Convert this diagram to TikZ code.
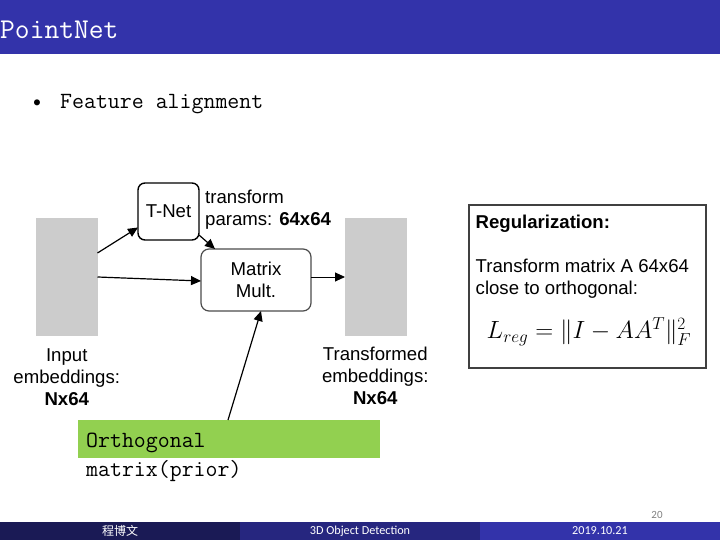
\documentclass[tikz,border=0pt]{standalone}
\usepackage{amsmath}
\usepackage{fontspec}
\setmainfont{Liberation Sans}
\newfontfamily\cjkfont{Noto Sans CJK SC}
\newfontfamily\footfont{Carlito}
\newfontfamily\slidefont{Latin Modern Mono}
\usepackage{xcolor}
\usetikzlibrary{positioning}
\usetikzlibrary{calc}
\usetikzlibrary{arrows.meta}
\definecolor{barBlue}{HTML}{3333AA}
\definecolor{barMid}{HTML}{26267F}
\definecolor{barDark}{HTML}{1A1A55}
\definecolor{blockGray}{HTML}{CCCCCC}
\definecolor{priorGreen}{HTML}{92D050}
\tikzset{
	embed/.style={fill=blockGray, minimum width=61.5pt, minimum height=118pt, inner sep=0pt, outer sep=0pt},
	bar/.style={minimum height=18pt, minimum width=240pt, inner sep=0pt, outer sep=0pt, text=white, font=\footfont\fontsize{12.2}{12.2}\selectfont},
	caption/.style={align=center, inner sep=0pt, font=\fontsize{18.6}{22}\selectfont},
	slidetext/.style={inner sep=0pt, align=left, font=\slidefont\fontsize{23.2}{29}\selectfont},
	arrow/.style={-{Triangle[length=10pt, width=9pt]}, line width=1.2pt}
}
\begin{document}
\begin{tikzpicture}
	\useasboundingbox (0pt,0pt) rectangle (720pt,540pt);

	% bars
	\node[fill=barBlue, minimum width=720pt, minimum height=54pt, inner sep=0pt, outer sep=0pt, anchor=north west] (titlebar) at (0pt,540pt) {};
	\node[slidetext, text=white, anchor=west, font=\slidefont\fontsize{28.7}{28.7}\selectfont] (title) at (0pt,510pt) {PointNet};
	\node[slidetext, anchor=west] (bullet) at (31pt,436pt) {\textbullet};
	\node[slidetext, anchor=west] (feature) at (60pt,436pt) {Feature alignment};

	\node[bar, fill=barDark, anchor=south west] (foot1) at (0pt,0pt) {\cjkfont\fontsize{12}{12}\selectfont 程博文};
	\node[bar, fill=barMid, right = 0pt of foot1] (foot2) {\raisebox{-1pt}{3D Object Detection}};
	\node[bar, fill=barBlue, right = 0pt of foot2] (foot3) {\raisebox{-1pt}{2019.10.21}};
	\node[inner sep=0pt, text=gray, font=\footfont\fontsize{11}{11}\selectfont] (page) at (657pt,25pt) {20};

	% nodes
	\node[embed, anchor=north west] (input) at (36pt,322pt) {};
	\node[embed, anchor=north west] (output) at (345pt,322pt) {};

	\node[draw, line width=1.4pt, rounded corners=7pt, minimum width=61pt, minimum height=57pt, inner sep=0pt, outer sep=0pt, font=\fontsize{18.6}{22}\selectfont] (tnet) at (168.5pt,328.5pt) {\raisebox{-2pt}{T-Net}};
	\node[draw=black!70, line width=1.2pt, rounded corners=8pt, minimum width=110pt, minimum height=62pt, inner sep=0pt, outer sep=0pt, align=center, font=\fontsize{18.6}{22}\selectfont] (mult) at (256pt,260pt) {Matrix\\Mult.};

	\node[anchor=north west, inner sep=0pt, align=left, font=\fontsize{18.6}{22}\selectfont] (params) at (205pt,350pt) {transform\\params: \textbf{64x64}};
	\node[caption, below = 13pt of input] (inputlabel) {Input\\embeddings:\\\textbf{Nx64}};
	\node[caption, below = 10.5pt of output, xshift=-0.5pt] (outputlabel) {Transformed\\embeddings:\\\textbf{Nx64}};

	\node[fill=priorGreen, minimum width=302pt, minimum height=38pt, inner sep=0pt, outer sep=0pt, anchor=north west] (prior) at (78pt,120pt) {};
	\node[slidetext, anchor=north west] (priortext) at ($(prior.north west) + (8pt,-13pt)$) {Orthogonal\\matrix(prior)};

	\node[draw=black!75, line width=1.2pt, minimum width=237pt, minimum height=163pt, inner sep=0pt, outer sep=0pt, anchor=north west] (reg) at (469pt,335pt) {};
	\node[anchor=north west, inner sep=0pt, align=left, font=\fontsize{18.6}{22}\selectfont] (regtext) at ($(reg.north west) + (6.5pt,-9.5pt)$) {\textbf{Regularization:}\\\\Transform matrix A 64x64\\close to orthogonal:};
	\node[inner sep=0pt, font=\fontsize{24.5}{24.5}\selectfont, anchor=center] (formula) at ($(reg.north west) + (120pt,-127pt)$) {$L_{reg} = \|I - AA^T\|_F^2$};

	% edges
	\draw[arrow] ($(input.east) + (0pt,24pt)$) -- ($(tnet.west) + (0pt,-16pt)$);
	\draw[arrow] ($(input.east) + (0pt,0pt)$) -- ($(mult.west) + (0pt,-1pt)$);
	\draw[arrow] ($(tnet.south east) + (0pt,5pt)$) -- ($(mult.north west) + (14pt,0pt)$);
	\draw[arrow, line width=0.9pt] ($(mult.east) + (0pt,3pt)$) -- ($(output.west) + (0pt,0pt)$);
	\draw[arrow] ($(prior.north west) + (150pt,0pt)$) -- ($(mult.south) + (5pt,0pt)$);
\end{tikzpicture}
\end{document}
